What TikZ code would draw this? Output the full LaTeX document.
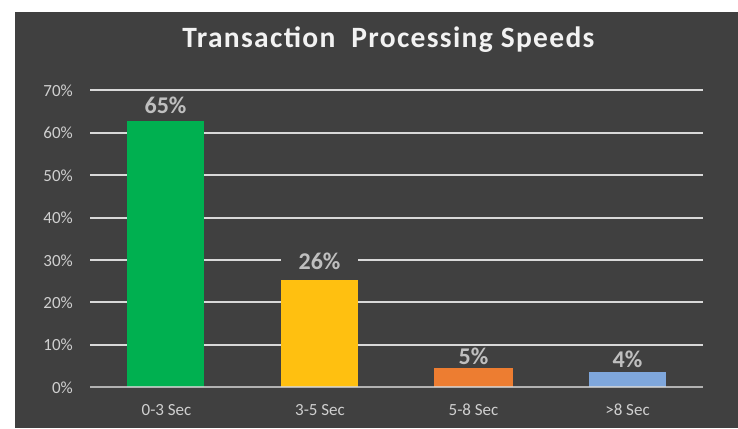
\documentclass[tikz,border=0pt]{standalone}
\usepackage{fontspec}
\setmainfont{Carlito}
\newfontfamily\titlefont[LetterSpace=4.5]{Carlito}
\definecolor{panel}{HTML}{404040}
\definecolor{gridc}{HTML}{D9D9D9}
\definecolor{tickc}{HTML}{D0D0D0}
\definecolor{valc}{HTML}{BFBFBF}
\definecolor{barA}{HTML}{00B050}
\definecolor{barB}{HTML}{FFC010}
\definecolor{barC}{HTML}{ED7D31}
\definecolor{barD}{HTML}{7FA7DC}
\tikzset{
  gridline/.style={draw=gridc, line width=2pt},
  ticklabel/.style={text=tickc, font=\fontsize{17}{20}\selectfont, inner sep=0pt},
  catlabel/.style={text=tickc, font=\fontsize{17}{20}\selectfont, inner sep=0pt, anchor=base},
  vallabel/.style={text=valc, font=\bfseries\fontsize{24}{28}\selectfont, fill=panel,
    inner xsep=0pt, inner ysep=1.5pt, minimum width=77pt, anchor=base},
}
\begin{document}
\begin{tikzpicture}[x=1pt, y=-1pt]
  \useasboundingbox (0,0) rectangle (738,428);
  \fill[white] (0,0) rectangle (738,428);
  \fill[panel] (15,12) rectangle (738,428);

  % title
  \node[text=white!95!black, font=\titlefont\bfseries\fontsize{29.5}{34}\selectfont,
        inner sep=0pt, anchor=base] (title) at (388.5,47.7) {Transaction\ \ Processing Speeds};

  % gridlines and value axis labels (0% at y=387.3, 42.43 per 10%)
  \foreach \k in {1,...,7} {
    \pgfmathsetmacro{\gy}{387.3-42.43*\k}
    \coordinate (gl\k) at (90,\gy);
    \coordinate (gr\k) at (703,\gy);
    \draw[gridline] (gl\k) -- (gr\k);
  }
  \foreach \k in {0,...,7} {
    \pgfmathsetmacro{\gy}{387.3-42.43*\k+6}
    \pgfmathtruncatemacro{\pc}{10*\k}
    \node[ticklabel, anchor=base east] (yl\k) at (73,\gy) {\pc\%};
  }

  % bars
  \fill[barA] (127,121) rectangle (204,387.3);
  \fill[barB] (281,280) rectangle (358,387.3);
  \fill[barC] (434,368) rectangle (513,387.3);
  \fill[barD] (589,372) rectangle (666,387.3);

  % value labels (their boxes mask the gridlines behind them)
  \node[vallabel] (vA) at (165.5,113.5) {65\%};
  \node[vallabel] (vB) at (319.5,269.5) {26\%};
  \node[vallabel] (vC) at (473.5,364) {5\%};
  \node[vallabel] (vD) at (627.5,367) {4\%};

  % baseline over the bars
  \coordinate (gl0) at (90,387.3);
  \coordinate (gr0) at (703,387.3);
  \draw[gridline, draw opacity=0.75] (gl0) -- (gr0);

  % category labels
  \node[catlabel] (cA) at (166.5,415) {0-3 Sec};
  \node[catlabel] (cB) at (320,415) {3-5 Sec};
  \node[catlabel] (cC) at (473.5,415) {5-8 Sec};
  \node[catlabel] (cD) at (627.5,415) {>8 Sec};
\end{tikzpicture}
\end{document}
